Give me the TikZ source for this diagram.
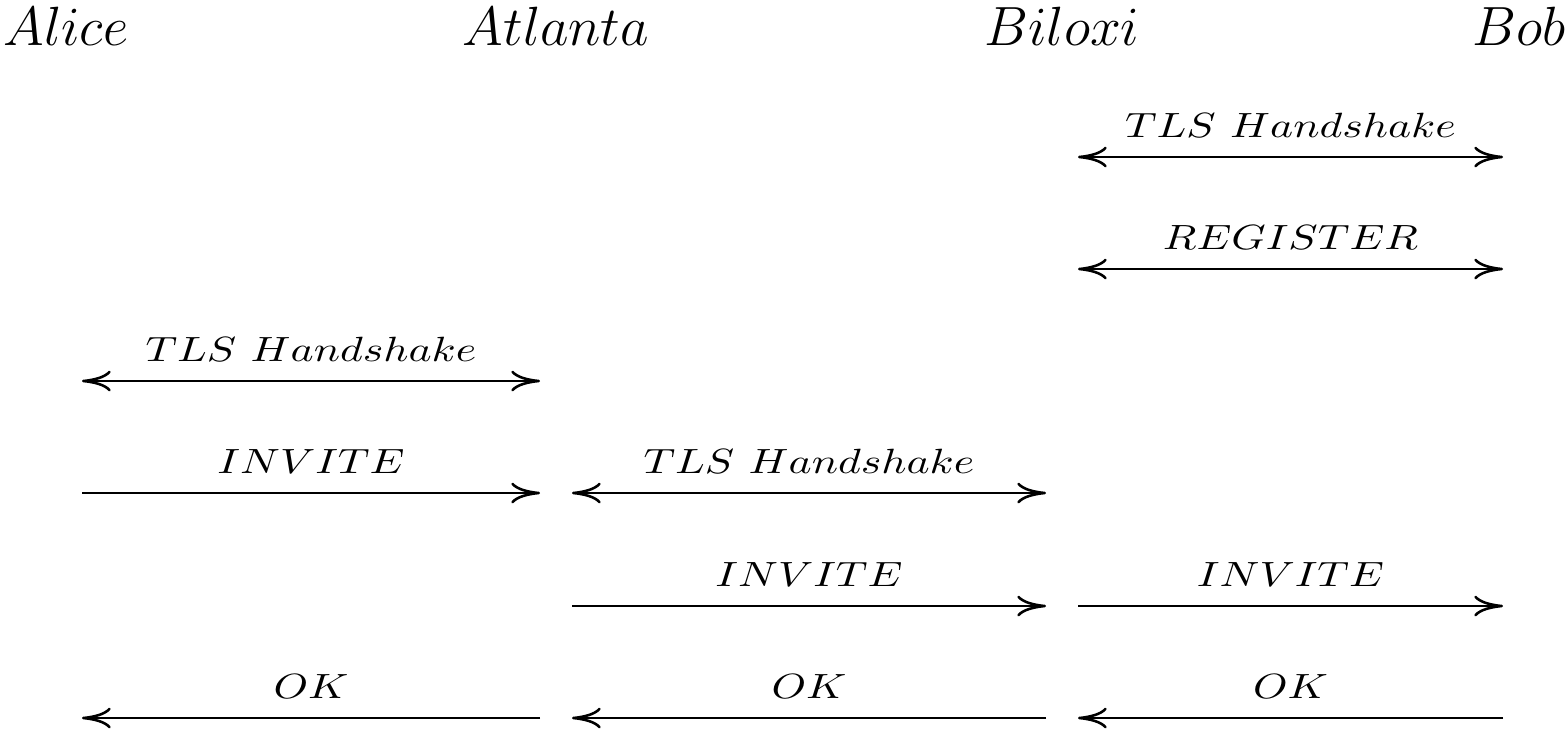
\documentclass[tikz,border=0pt]{standalone}
\usetikzlibrary{arrows.meta}

% message names, stretched sideways
\newcommand\msgname[1]{\scalebox{1.25}[1]{$#1$}}
\newcommand\tls{\msgname{TLS\ Handshake}}
\newcommand\register{\msgname{REGISTER}}
\newcommand\invite{\msgname{INVITE}}
\newcommand\ok{\msgname{OK}}

\begin{document}
\begin{tikzpicture} [
                x=0.3125pt,
                y=-0.3125pt,
                >={Computer Modern Rightarrow[length=9pt,width=6.5pt]},
                party/.style = {anchor=base,inner sep=0pt,font=\fontsize{18}{22}\selectfont},
                msg/.style = {draw,line width=0.8pt,shorten <=5pt,shorten >=5pt},
                msg label/.style = {anchor=base,inner sep=0pt,yshift=6.25pt,font=\fontsize{11}{13}\selectfont}
            ]
            \useasboundingbox (0,0) rectangle (1568,732);
            % First the parties along the top
            \foreach \x/\name/\who in {66/alice/Alice, 556/atlanta/Atlanta,
                                       1062/biloxi/Biloxi, 1519/bob/Bob}
                \node[party] (\name) at (\x,45) {$\who$};
            % one coordinate per party and row
            \foreach \x/\name in {66/alice, 556/atlanta, 1062/biloxi, 1519/bob}
                \foreach \r/\y in {1/157, 2/269, 3/381, 4/493, 5/606, 6/718}
                    \coordinate (\name\r) at (\x,\y);
            % Then the messages, from sender to receiver
            \foreach \source/\dest/\tip/\txt in {biloxi1/bob1/<->/\tls, biloxi2/bob2/<->/\register,
                                                 alice3/atlanta3/<->/\tls,
                                                 alice4/atlanta4/->/\invite, atlanta4/biloxi4/<->/\tls,
                                                 atlanta5/biloxi5/->/\invite, biloxi5/bob5/->/\invite,
                                                 atlanta6/alice6/->/\ok, biloxi6/atlanta6/->/\ok,
                                                 bob6/biloxi6/->/\ok}
                \path[msg,\tip] (\source) -- node[msg label] {\txt} (\dest);
        \end{tikzpicture}
\end{document}
